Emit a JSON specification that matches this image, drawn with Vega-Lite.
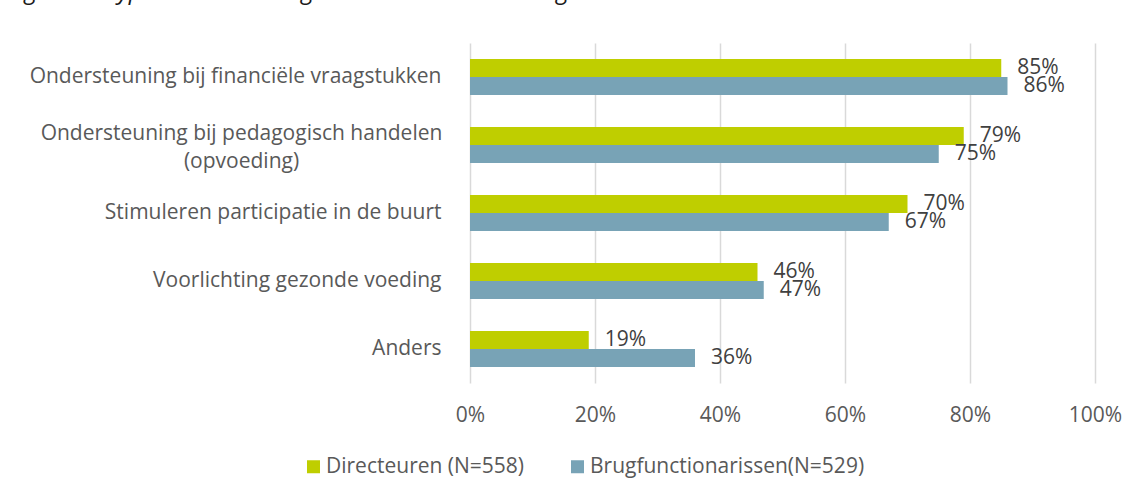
{
  "$schema": "https://vega.github.io/schema/vega-lite/v6.json",
  "width": 625,
  "height": 340,
  "autosize": {"type": "none"},
  "padding": {"left": 470, "top": 43, "right": 42, "bottom": 112},
  "background": "white",
  "config": {
    "font": "Open Sans",
    "view": {"stroke": null}
  },
  "title": {
    "text": "Figuur 8: Type ondersteuning dat aan ouders wordt geboden.",
    "anchor": "start",
    "frame": "group",
    "dx": -463,
    "baseline": "alphabetic",
    "offset": 20,
    "font": "Open Sans",
    "fontStyle": "italic",
    "fontWeight": "normal",
    "fontSize": 24,
    "color": "#1a1a1a"
  },
  "data": {
    "values": [
      {"item": "Ondersteuning bij financiële vraagstukken", "group": "Directeuren (N=558)", "value": 0.85},
      {"item": "Ondersteuning bij financiële vraagstukken", "group": "Brugfunctionarissen(N=529)", "value": 0.86},
      {"item": "Ondersteuning bij pedagogisch handelen (opvoeding)", "group": "Directeuren (N=558)", "value": 0.79},
      {"item": "Ondersteuning bij pedagogisch handelen (opvoeding)", "group": "Brugfunctionarissen(N=529)", "value": 0.75},
      {"item": "Stimuleren participatie in de buurt", "group": "Directeuren (N=558)", "value": 0.70},
      {"item": "Stimuleren participatie in de buurt", "group": "Brugfunctionarissen(N=529)", "value": 0.67},
      {"item": "Voorlichting gezonde voeding", "group": "Directeuren (N=558)", "value": 0.46},
      {"item": "Voorlichting gezonde voeding", "group": "Brugfunctionarissen(N=529)", "value": 0.47},
      {"item": "Anders", "group": "Directeuren (N=558)", "value": 0.19},
      {"item": "Anders", "group": "Brugfunctionarissen(N=529)", "value": 0.36}
    ]
  },
  "encoding": {
    "y": {
      "field": "item",
      "type": "nominal",
      "sort": null,
      "title": null,
      "scale": {"paddingInner": 0.47, "paddingOuter": 0.235},
      "axis": {
        "domain": false,
        "ticks": false,
        "grid": false,
        "labelFontSize": 21,
        "labelColor": "#595959",
        "labelLimit": 500,
        "labelLineHeight": 28,
        "labelBaseline": "middle",
        "labelExpr": "datum.label == 'Ondersteuning bij pedagogisch handelen (opvoeding)' ? ['Ondersteuning bij pedagogisch handelen', '(opvoeding)'] : datum.label",
        "labelAlign": {"condition": {"test": "datum.value == 'Ondersteuning bij pedagogisch handelen (opvoeding)'", "value": "center"}, "value": "right"},
        "labelOffset": {"condition": {"test": "datum.value == 'Ondersteuning bij pedagogisch handelen (opvoeding)'", "value": -11}, "value": 0},
        "labelPadding": {"condition": {"test": "datum.value == 'Ondersteuning bij pedagogisch handelen (opvoeding)'", "value": 229}, "value": 29}
      }
    },
    "yOffset": {
      "field": "group",
      "type": "nominal",
      "scale": {"domain": ["Directeuren (N=558)", "Brugfunctionarissen(N=529)"], "paddingInner": 0, "paddingOuter": 0}
    },
    "x": {
      "field": "value",
      "type": "quantitative",
      "title": null,
      "scale": {"domain": [0, 1], "nice": false},
      "axis": {
        "values": [0, 0.2, 0.4, 0.6, 0.8, 1],
        "format": ".0%",
        "domain": false,
        "ticks": false,
        "grid": true,
        "gridColor": "#d9d9d9",
        "gridWidth": 1.5,
        "labelFlush": false,
        "labelFontSize": 21,
        "labelColor": "#595959",
        "labelPadding": 21
      }
    }
  },
  "layer": [
    {
      "mark": {"type": "bar"},
      "encoding": {
        "color": {
          "field": "group",
          "type": "nominal",
          "title": null,
          "scale": {"domain": ["Directeuren (N=558)", "Brugfunctionarissen(N=529)"], "range": ["#BFCE00", "#78A3B6"]},
          "legend": {
            "orient": "none",
            "direction": "horizontal",
            "legendX": -167,
            "legendY": 413,
            "symbolType": "square",
            "symbolSize": 169,
            "symbolStrokeWidth": 0,
            "symbolOpacity": 1,
            "labelFontSize": 21,
            "labelColor": "#595959",
            "labelOffset": 2,
            "columnPadding": 42,
            "labelLimit": 400
          }
        }
      }
    },
    {
      "mark": {"type": "text", "align": "left", "baseline": "middle", "dx": 16, "fontSize": 21, "color": "#404040"},
      "encoding": {
        "text": {"field": "value", "type": "quantitative", "format": ".0%"}
      }
    }
  ]
}
